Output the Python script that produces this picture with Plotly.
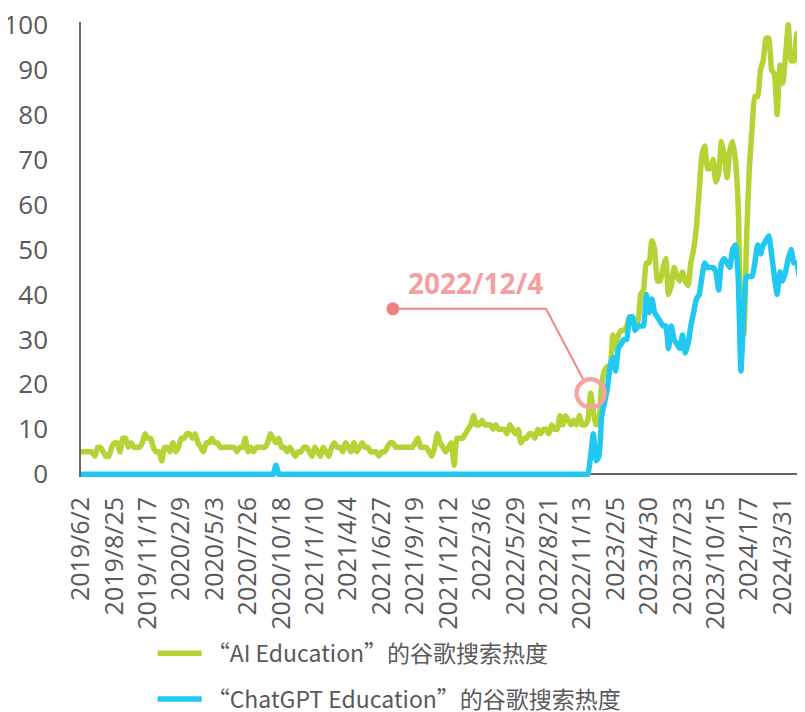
import pandas as pd
import plotly.graph_objects as go

# ---- data -------------------------------------------------------------
week_dates = pd.date_range("2019-06-02", periods=261, freq="7D")
categories = [f"{d.year}/{d.month}/{d.day}" for d in week_dates]
tick_labels = categories[::12]

ai_education = [
    5, 5, 5, 5, 5, 4, 6, 6, 5, 4, 4, 6, 7, 7, 5, 8, 8, 6, 7, 6,
    6, 6, 7, 9, 8, 8, 6, 5, 5, 3, 6, 6, 5, 7, 5, 6, 8, 8, 9, 9,
    8, 9, 7, 6, 5, 7, 7, 8, 7, 7, 6, 6, 6, 6, 6, 6, 5, 6, 6, 8,
    5, 6, 5, 6, 6, 6, 6, 7, 9, 8, 7, 8, 6, 6, 5, 6, 5, 4, 5, 5,
    6, 6, 5, 4, 6, 5, 4, 6, 5, 4, 6, 7, 6, 6, 5, 7, 6, 5, 7, 5,
    6, 7, 6, 6, 5, 5, 5, 4, 5, 5, 6, 7, 7, 6, 6, 6, 6, 6, 6, 6,
    7, 8, 6, 6, 6, 5, 4, 6, 9, 7, 6, 5, 6, 7, 2, 8, 8, 8, 9, 10,
    11, 13, 11, 11, 12, 11, 11, 11, 10, 11, 10, 10, 10, 9, 11, 10, 9, 10, 7, 8,
    8, 9, 9, 8, 10, 9, 10, 10, 9, 11, 10, 10, 13, 11, 13, 12, 11, 12, 11, 13,
    11, 11, 12, 18, 14, 11, 12, 20, 23, 24, 24, 31, 28, 31, 32, 32, 33, 35, 35, 34,
    34, 40, 41, 47, 47, 52, 50, 43, 43, 46, 48, 40, 42, 46, 44, 43, 45, 43, 42, 47,
    50, 55, 63, 71, 73, 68, 68, 70, 65, 67, 74, 71, 66, 72, 74, 70, 60, 35, 31, 52,
    68, 77, 84, 84, 90, 92, 97, 97, 90, 89, 80, 91, 87, 93, 100, 92, 92, 98, 91, 82,
    81,
]

chatgpt_education = [0] * 182
chatgpt_education[70] = 2
chatgpt_education += [
    0, 4, 9, 3, 4, 13, 16, 19, 24, 26, 23, 28, 29, 30, 30, 35, 35, 32,
    33, 33, 33, 40, 36, 39, 36, 35, 34, 33, 33, 28, 33, 30, 29, 28, 31, 27, 29, 33,
    36, 39, 40, 44, 47, 46, 46, 46, 45, 41, 47, 48, 47, 46, 50, 51, 44, 23, 36, 44,
    44, 44, 47, 51, 49, 51, 52, 53, 49, 44, 40, 45, 43, 45, 48, 50, 47, 47, 44, 43,
    55,
]

series_names = ["“AI Education”的谷歌搜索热度", "“ChatGPT Education”的谷歌搜索热度"]
series_colors = ["#B4D334", "#20C8F2"]

highlight_date = "2022/12/4"
highlight_label = "2022/12/4"

# ---- figure geometry (page has an 8px body margin) --------------------
PAGE_OFFSET = 8
W, H = 805 - PAGE_OFFSET, 712 - PAGE_OFFSET
M_L, M_R, M_T = 81 - PAGE_OFFSET, 0, 22 - PAGE_OFFSET
Y_RANGE = [-0.6, 100.6]
PX_PER_UNIT = 4.5
plot_h = (Y_RANGE[1] - Y_RANGE[0]) * PX_PER_UNIT
M_B = H - M_T - plot_h
positions = list(range(len(categories)))
X_RANGE = [0, len(categories) - 1]
plot_w = W - M_L - M_R
px_per_week = plot_w / (X_RANGE[1] - X_RANGE[0])

TEXT_GREY = "#595959"
X_TICK_FONT = dict(family="Open Sans, Noto Sans CJK SC", size=25, color=TEXT_GREY)
Y_TICK_FONT = dict(family="Open Sans, Noto Sans CJK SC", size=26, color=TEXT_GREY)

fig = go.Figure()
for name, vals, col, grp in zip(series_names, [ai_education, chatgpt_education], series_colors, ["a", "b"]):
    fig.add_trace(go.Scatter(
        x=positions, y=vals, name=name, mode="lines", legendgroup=grp,
        customdata=categories,
        line=dict(color=col, width=5.5, shape="spline", smoothing=0.5),
        hovertemplate="%{customdata}: %{y}<extra></extra>",
    ))

# ---- highlight callout, anchored on the data point ------------------
hi = categories.index(highlight_date)
hv = ai_education[hi]
dot_i = hi - 71
dot_v = hv + 18.8
elbow_i = hi - 16
dx = (elbow_i - hi) * px_per_week
dy = (dot_v - hv) * PX_PER_UNIT
dist = (dx ** 2 + dy ** 2) ** 0.5
r = 15
edge_i = hi + dx / dist * r / px_per_week
edge_v = hv + dy / dist * r / PX_PER_UNIT

fig.add_trace(go.Scatter(
    x=[dot_i, elbow_i, edge_i], y=[dot_v, dot_v, edge_v], mode="lines",
    line=dict(color="#F08585", width=2), showlegend=False, hoverinfo="skip",
))
fig.add_trace(go.Scatter(
    x=[dot_i], y=[dot_v], mode="markers",
    marker=dict(color="#F08080", size=13), showlegend=False, hoverinfo="skip",
))
fig.add_trace(go.Scatter(
    x=[hi], y=[hv], mode="markers",
    marker=dict(symbol="circle-open", color="#F6A3A3", size=28, line=dict(width=4.5, color="#F6A3A3")),
    showlegend=False, hoverinfo="skip",
))
fig.add_annotation(
    x=(dot_i + elbow_i) / 2 + 2, y=dot_v + 5.8, xref="x", yref="y",
    text=f"<b>{highlight_label}</b>", showarrow=False,
    font=dict(family="Open Sans", size=28, color="#F4A0A0"),
)

fig.update_layout(
    width=W, height=H,
    margin=dict(l=M_L, r=M_R, t=M_T, b=M_B, pad=0, autoexpand=False),
    paper_bgcolor="white", plot_bgcolor="white",
    showlegend=True,
    legend=dict(
        x=0.099, y=-0.34, xanchor="left", yanchor="top",
        font=dict(family="Noto Sans CJK SC, Open Sans", size=23, color=TEXT_GREY),
        tracegroupgap=13, bgcolor="rgba(0,0,0,0)", itemwidth=44,
    ),
    xaxis=dict(
        range=X_RANGE, showgrid=False, showline=False,
        tickmode="array", tickvals=positions[::12], ticktext=tick_labels,
        tickangle=-90, tickfont=X_TICK_FONT, ticks="", zeroline=False,
        layer="below traces", ticklabelstandoff=14, ticklabeloverflow="allow",
    ),
    yaxis=dict(
        range=Y_RANGE, showgrid=False, showline=True, linecolor="#666666", linewidth=1.5,
        tickmode="array", tickvals=list(range(0, 101, 10)), ticks="",
        tickfont=Y_TICK_FONT, zeroline=True, zerolinecolor="#666666", zerolinewidth=1.5,
        layer="below traces", ticklabelstandoff=26, ticklabeloverflow="allow",
    ),
)

fig.write_html("out.html")
